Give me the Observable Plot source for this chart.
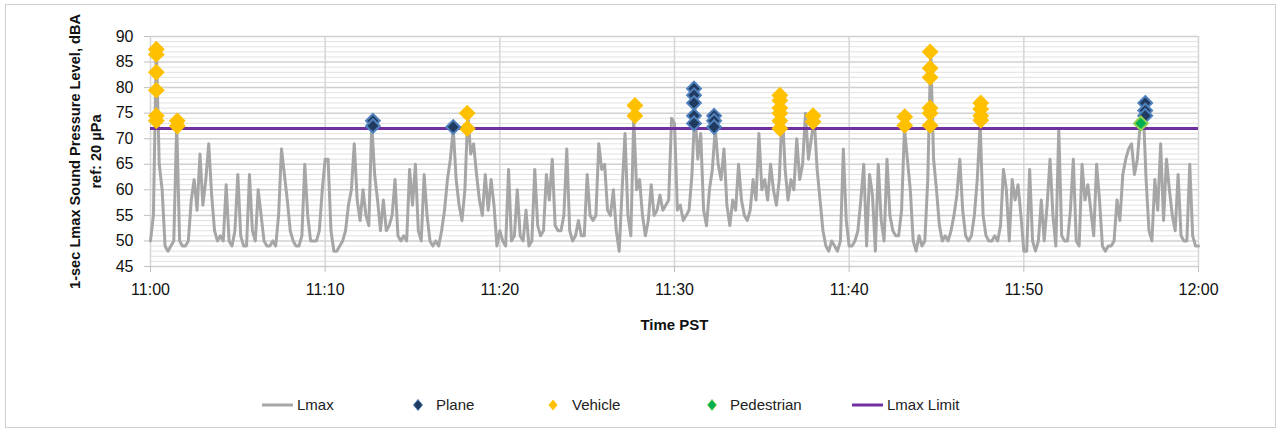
<!DOCTYPE html>
<html>
<head>
<meta charset="utf-8">
<script src="https://cdn.jsdelivr.net/npm/d3@7"></script>
<script src="https://cdn.jsdelivr.net/npm/@observablehq/plot@0.6"></script>
<style>
  html, body { margin: 0; padding: 0; background: #fff; }
  body { width: 1282px; height: 432px; position: relative; overflow: hidden; font-family: "Liberation Sans", Arial, sans-serif; }
  #frame { position: absolute; left: 5px; top: 4px; width: 1271px; height: 424px; border: 1px solid #d0d0d0; box-sizing: border-box; }
  #chart { position: absolute; left: 0; top: 0; }
  #legend { position: absolute; left: 0; top: 394px; width: 1282px; height: 22px; font-size: 15px; color: #222; }
  .li { position: absolute; top: 0; height: 22px; display: flex; align-items: center; }
  .li span { line-height: 22px; }
</style>
</head>
<body>
<div id="frame"></div>
<div id="chart"></div>
<div id="legend"></div>
<script>
// ---- data ----
const lmaxStepSec = 10; // one reading every 10 s from 11:00:00 to 12:00:00
const lmaxValues = [
  // 11:00 - 11:10
  50,55,88,65,60,49,48,49,50,73,50,49,49,50,58,62,56,67,57,62,69,59,52,50,51,50,61,50,49,52,63,51,49,49,63,52,50,60,55,50,49,49,50,49,55,68,63,58,52,50,49,49,51,65,55,50,50,50,52,60,66,
  // 11:10 - 11:20
  66,52,48,48,49,50,52,57,60,69,58,54,60,55,53,73,63,58,52,58,52,53,55,62,51,50,51,50,64,57,65,52,50,63,55,50,49,50,49,52,56,62,66,72,62,57,54,60,75,67,69,63,58,55,63,56,62,57,49,52,
  // 11:20 - 11:30
  50,49,64,50,51,60,51,50,56,49,50,64,53,51,52,63,58,66,53,52,52,55,68,52,50,51,54,51,51,63,55,54,55,69,64,65,56,55,60,52,48,60,71,55,51,74,60,62,55,51,54,61,55,56,59,56,57,58,74,73,
  // 11:30 - 11:40
  56,57,54,55,56,63,76,66,71,56,53,60,64,72,65,62,68,57,53,58,56,65,58,55,54,56,62,58,71,60,62,58,65,60,57,62,76,64,58,62,60,70,62,65,75,66,70,74,64,58,52,49,48,50,49,48,50,68,54,49,
  // 11:40 - 11:50
  49,50,52,58,65,49,63,59,48,65,54,50,66,55,52,51,51,56,72,66,60,50,48,51,49,50,62,87,66,60,53,50,51,50,52,55,59,66,56,51,50,51,55,62,73,55,51,50,50,51,50,53,64,60,50,62,58,61,55,48,
  // 11:50 - 12:00
  48,64,50,48,50,58,50,57,66,55,49,72,51,50,50,56,66,50,49,65,58,61,56,51,65,58,49,48,49,49,50,58,54,63,66,68,69,63,66,73,76,62,52,50,62,56,69,54,66,60,55,52,63,51,50,50,65,51,49,49
];

const planeTimes  = ["11:12:44", "11:17:20", "11:31:07", "11:32:16", "11:56:57"];
const planeLevels = [[73.5, 72.5], [72.3], [79.8, 78.5, 77, 74.5, 73], [74.5, 73.5, 72.3], [77, 75.5, 74.5]];

const vehicleTimes  = ["11:00:20", "11:01:32", "11:18:08", "11:27:44", "11:36:02", "11:37:56", "11:43:11", "11:44:38", "11:47:32"];
const vehicleLevels = [[87.5, 86.5, 83, 79.5, 74.5, 73.5], [73.5, 72.5], [75, 72], [76.5, 74.5], [78.5, 77.5, 76, 75, 73.5, 72], [74.5, 73.3], [74.3, 72.6], [87, 83.8, 82, 76, 75, 72.6], [77, 75.8, 74.5, 73.6]];

const pedestrianTimes  = ["11:56:42"];
const pedestrianLevels = [[73]];

const lmaxLimit = 72;

const xTickMinutes = [0, 10, 20, 30, 40, 50, 60];
const xTickLabels = ["11:00", "11:10", "11:20", "11:30", "11:40", "11:50", "12:00"];
const yTicks = [45, 50, 55, 60, 65, 70, 75, 80, 85, 90];
const yMinorGrid = d3.range(45, 91).filter(v => v % 5 !== 0);

const seriesNames = ["Lmax", "Plane", "Vehicle", "Pedestrian", "Lmax Limit"];

// ---- build tables ----
const lmaxData = lmaxValues.map((v, i) => ({ t: i * lmaxStepSec / 60, v }));
function toMin(s) { const [h, m, sec] = s.split(":").map(Number); return (h - 11) * 60 + m + sec / 60; }
function events(times, levels) {
  const out = [];
  times.forEach((t, k) => levels[k].forEach(l => out.push({ t: toMin(t), v: l })));
  return out;
}
const planeData = events(planeTimes, planeLevels);
const vehicleData = events(vehicleTimes, vehicleLevels);
const pedestrianData = events(pedestrianTimes, pedestrianLevels);

const chart = Plot.plot({
  width: 1282,
  height: 340,
  marginLeft: 150,
  marginRight: 84,
  marginTop: 36,
  marginBottom: 74,
  x: { domain: [0, 60] },
  y: { domain: [45, 90] },
  style: { fontFamily: '"Liberation Sans", Arial, sans-serif', fontSize: "16px", color: "#111", background: "transparent", overflow: "visible" },
  marks: [
    Plot.ruleY(yMinorGrid, { stroke: "#E2E2E2", strokeWidth: 1 }),
    Plot.ruleY(yTicks, { stroke: "#D0D0D0", strokeWidth: 1.5 }),
    Plot.ruleX(xTickMinutes, { stroke: "#D6D6D6", strokeWidth: 1.5 }),
    Plot.axisY({ ticks: yTicks, tickSize: 6, tickPadding: 11, label: null, stroke: "#BFBFBF", fill: "#111", fontSize: 16 }),
    Plot.axisX({ ticks: xTickMinutes, tickFormat: d => xTickLabels[xTickMinutes.indexOf(d)], tickSize: 6, tickPadding: 11, label: null, stroke: "#BFBFBF", fill: "#111", fontSize: 16 }),
    Plot.line(lmaxData, { x: "t", y: "v", stroke: "#A6A6A6", strokeWidth: 3, strokeLinejoin: "round" }),
    Plot.ruleY([lmaxLimit], { stroke: "#7030A0", strokeWidth: 3 }),
    Plot.dot(vehicleData, { x: "t", y: "v", symbol: "diamond2", r: 7.6, fill: "#FFC000", stroke: "none" }),
    Plot.dot(planeData, { x: "t", y: "v", symbol: "diamond2", r: 6.2, fill: "#213A5F", stroke: "#4F81BD", strokeWidth: 2 }),
    Plot.dot(pedestrianData, { x: "t", y: "v", symbol: "diamond2", r: 6.2, fill: "#00B050", stroke: "#92D050", strokeWidth: 2 }),
    Plot.text(["Time PST"], { frameAnchor: "bottom", textAnchor: "middle", lineAnchor: "middle", dy: 59, fontWeight: "bold", fontSize: 15, fill: "#111" }),
    Plot.text(["1-sec Lmax Sound Pressure Level, dBA\nref: 20 µPa"], { frameAnchor: "left", textAnchor: "middle", lineAnchor: "middle", rotate: -90, dx: -67, lineHeight: 1.5, fontWeight: "bold", fontSize: 14.6, fill: "#111" })
  ]
});
document.getElementById("chart").appendChild(chart);

// ---- legend ----
const legend = document.getElementById("legend");
const legendItems = [
  { name: seriesNames[0], kind: "line", color: "#A6A6A6", x: 262, tx: 297 },
  { name: seriesNames[1], kind: "diamond", color: "#213A5F", stroke: "#4F81BD", x: 412, tx: 436 },
  { name: seriesNames[2], kind: "diamond", color: "#FFC000", stroke: "none", x: 547, tx: 572 },
  { name: seriesNames[3], kind: "diamond", color: "#00B050", stroke: "#92D050", x: 706, tx: 730 },
  { name: seriesNames[4], kind: "line", color: "#7030A0", x: 852, tx: 887 }
];
legendItems.forEach(it => {
  const sw = document.createElementNS("http://www.w3.org/2000/svg", "svg");
  sw.setAttribute("width", it.kind === "line" ? 32 : 12);
  sw.setAttribute("height", 22);
  sw.style.position = "absolute";
  sw.style.left = it.x + "px";
  sw.style.top = "0px";
  if (it.kind === "line") {
    sw.innerHTML = `<line x1="0" x2="31" y1="11" y2="11" stroke="${it.color}" stroke-width="3"/>`;
  } else {
    sw.innerHTML = `<path d="M6,5.5 L10.5,11 L6,16.5 L1.5,11 Z" fill="${it.color}" stroke="${it.stroke}" stroke-width="1"/>`;
  }
  legend.appendChild(sw);
  const tx = document.createElement("div");
  tx.className = "li";
  tx.style.left = it.tx + "px";
  tx.innerHTML = `<span>${it.name}</span>`;
  legend.appendChild(tx);
});
</script>
</body>
</html>
